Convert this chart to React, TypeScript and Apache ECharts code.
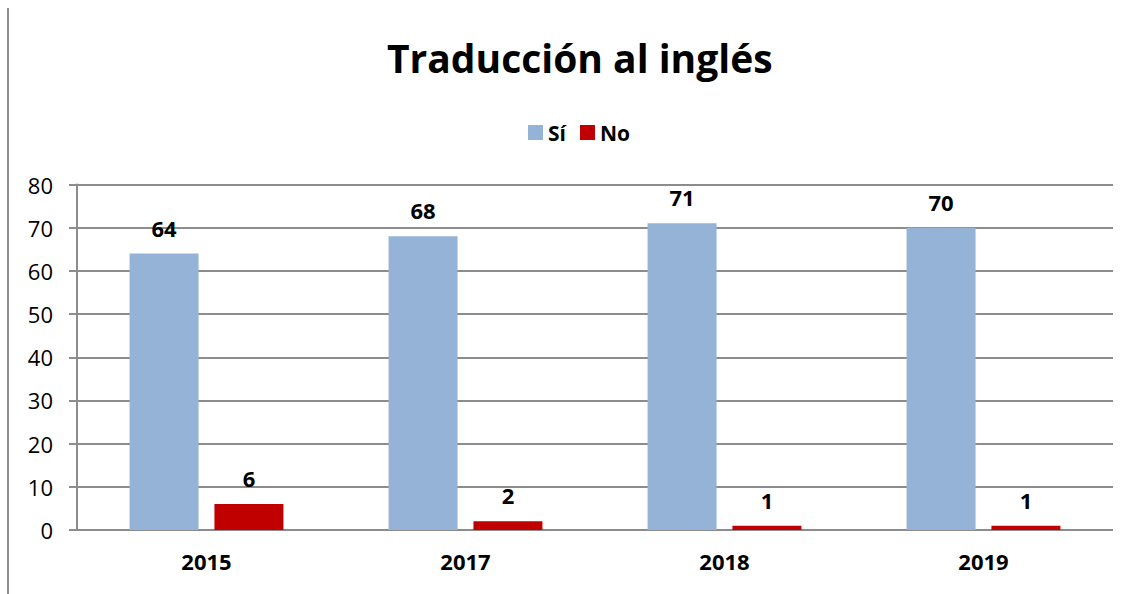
import React, { useEffect, useRef } from "react";
import * as echarts from "echarts";

const categories = ["2015", "2017", "2018", "2019"];
const siValues = [64, 68, 71, 70];
const noValues = [6, 2, 1, 1];
const titleText = "Traducción al inglés";
const seriesNames = ["Sí", "No"];

const FONT = "'Open Sans', 'Liberation Sans', sans-serif";

export default function App() {
  const ref = useRef<HTMLDivElement>(null);
  useEffect(() => {
    if (!ref.current) return;
    const chart = echarts.init(ref.current, undefined, { renderer: "svg" });
    const labelStyle = {
      show: true,
      position: "top",
      distance: 15,
      fontFamily: FONT,
      fontSize: 22,
      fontWeight: "bold",
      color: "#000",
    };
    chart.setOption({
      animation: false,
      backgroundColor: "#ffffff",
      title: {
        text: titleText,
        left: 382,
        top: 33,
        textStyle: { fontFamily: FONT, fontSize: 39, fontWeight: "bold", color: "#000" },
      },
      legend: {
        data: seriesNames,
        top: 117,
        left: 523,
        itemWidth: 15,
        itemHeight: 15,
        itemGap: 14,
        icon: "rect",
        textStyle: { fontFamily: FONT, fontSize: 21, fontWeight: "bold", color: "#000" },
      },
      graphic: [
        {
          type: "line",
          shape: { x1: 8, y1: 8, x2: 8, y2: 594 },
          style: { stroke: "#8c8c8c", lineWidth: 2 },
        },
      ],
      grid: { left: 77, right: 21, top: 184.5, bottom: 64, containLabel: false },
      xAxis: {
        type: "category",
        data: categories,
        axisLine: { show: false },
        axisTick: { show: false },
        axisLabel: { fontFamily: FONT, fontSize: 22, fontWeight: "bold", color: "#000", margin: 20 },
      },
      yAxis: {
        type: "value",
        min: 0,
        max: 80,
        interval: 10,
        axisLine: { show: true, lineStyle: { color: "#8c8c8c", width: 2 } },
        axisTick: { show: true, length: 8, lineStyle: { color: "#8c8c8c", width: 2 } },
        axisLabel: { fontFamily: FONT, fontSize: 22, color: "#000", margin: 24 },
        splitLine: { show: true, lineStyle: { color: "#8c8c8c", width: 2 } },
      },
      series: [
        {
          name: seriesNames[0],
          type: "bar",
          data: siValues,
          barWidth: 69,
          barGap: "23%",
          itemStyle: { color: "#95B3D7" },
          label: labelStyle,
        },
        {
          name: seriesNames[1],
          type: "bar",
          data: noValues,
          barWidth: 69,
          barGap: "23%",
          itemStyle: { color: "#C00000" },
          label: labelStyle,
        },
      ],
    });
    return () => chart.dispose();
  }, []);
  return (
    <div
      ref={ref}
      style={{ position: "absolute", left: 0, top: 0, width: 1134, height: 594 }}
    />
  );
}
